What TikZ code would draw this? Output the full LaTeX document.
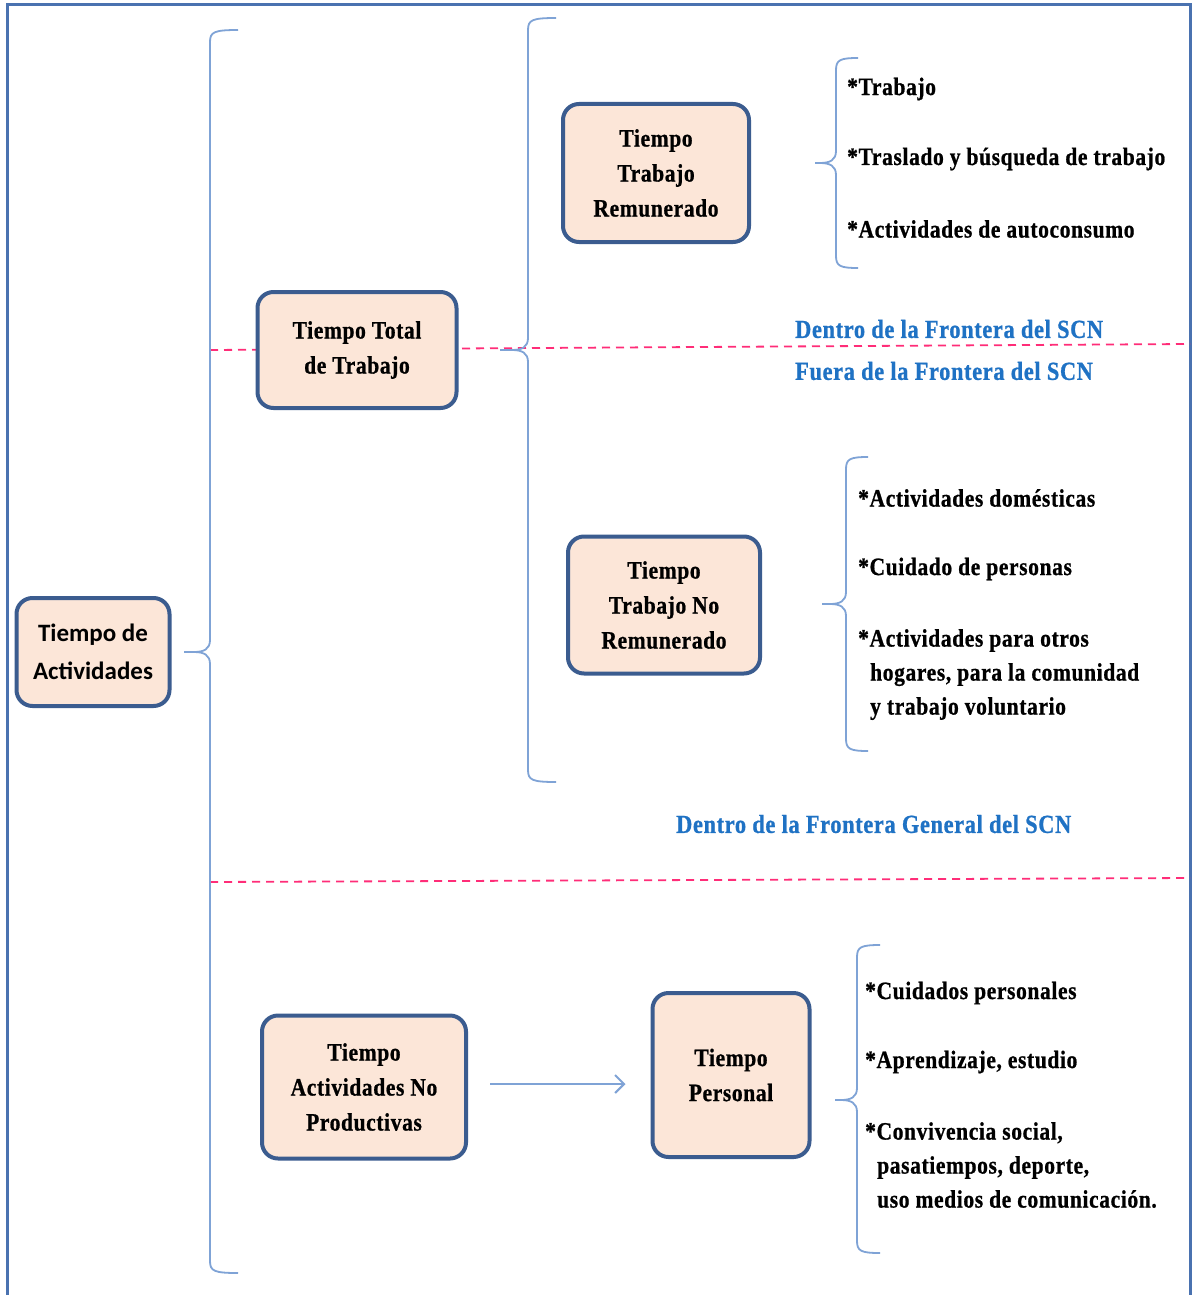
\documentclass[tikz,border=0pt]{standalone}
\usepackage{fontspec}
\setmainfont{Liberation Serif}
\newfontfamily\cond[FakeStretch=0.86,LetterSpace=2.5,FakeBold=0.8]{Liberation Serif}
\newfontfamily\calib{Carlito}
\usetikzlibrary{arrows.meta}
\definecolor{frameblue}{HTML}{4A72B0}
\definecolor{bracecol}{HTML}{7FA3D6}
\definecolor{boxfill}{HTML}{FCE6D8}
\definecolor{boxline}{HTML}{3B5C8F}
\definecolor{dashpink}{HTML}{FF2D78}
\definecolor{labblue}{HTML}{1F72C4}
\tikzset{
  box/.style={draw=boxline, fill=boxfill, line width=4pt, rounded corners=16pt,
    align=center, inner sep=0pt, font=\cond\bfseries\fontsize{25}{35}\selectfont},
  brc/.style={draw=bracecol, line width=1.8pt},
  sep/.style={draw=dashpink, line width=1.8pt, dash pattern=on 8pt off 6pt},
  lab/.style={text=labblue, font=\cond\bfseries\fontsize{26}{30}\selectfont, anchor=west, inner sep=0pt},
  item/.style={font=\cond\bfseries\fontsize{25}{34}\selectfont, anchor=west, align=left, inner sep=0pt},
  arr/.style={draw=bracecol, line width=2pt, -{Straight Barb[length=9pt,width=18pt,line width=2pt]}}
}
\newcommand{\mybrc}[6]{%
  % #1 x of vertical, #2 top y, #3 middle y, #4 bottom y, #5 tip x, #6 hook end x
  \draw[brc] (#6,#2) .. controls ({#1+4},#2) and (#1,{#2+2}) .. (#1,{#2+12})
    -- (#1,{#3-12}) .. controls (#1,{#3-3}) and ({#1-6},#3) .. ({#1-16},#3) -- (#5,#3)
    -- ({#1-16},#3) .. controls ({#1-6},#3) and (#1,{#3+3}) .. (#1,{#3+12})
    -- (#1,{#4-12}) .. controls (#1,{#4-2}) and ({#1+4},#4) .. (#6,#4);}
\begin{document}
\begin{tikzpicture}[x=1pt,y=-1pt]
\useasboundingbox (0,0) rectangle (1193,1295);
\fill[white] (0,0) rectangle (1193,1295);
% frame
\draw[frameblue, line width=3pt] (7,1300) -- (7,5) -- (1190,5) -- (1190,1300);
% separators
\draw[sep] (210,350) -- (1190,344);
\draw[sep] (210,882) -- (1190,878);
% braces
\mybrc{210}{30}{652}{1273}{184}{238}
\mybrc{528}{18}{350}{782}{500}{556}
\mybrc{836}{58}{163}{268}{815}{858}
\mybrc{846}{457}{604}{751}{822}{868}
\mybrc{857}{945}{1100}{1253}{835}{880}
% boxes
\node[box, minimum width=153pt, minimum height=108pt, font=\calib\bfseries\fontsize{25}{38}\selectfont] (ta) at (93,652) {Tiempo de\\Actividades};
\node[box, minimum width=199pt, minimum height=116pt] (ttt) at (357,350) {Tiempo Total\\de Trabajo};
\node[box, minimum width=186pt, minimum height=138pt] (ttr) at (656,173) {Tiempo\\Trabajo\\Remunerado};
\node[box, minimum width=192pt, minimum height=137pt] (ttnr) at (664,605) {Tiempo\\Trabajo No\\Remunerado};
\node[box, minimum width=204pt, minimum height=143pt] (anp) at (364,1087) {Tiempo\\Actividades No\\Productivas};
\node[box, minimum width=157pt, minimum height=164pt] (tp) at (731,1075) {Tiempo\\Personal};
% arrow
\draw[arr, shorten <=22pt, shorten >=25pt] (anp.east |- 0,1084) coordinate (a1) -- (tp.west |- 0,1084) coordinate (a2);
% labels
\node[lab] (l1) at (795,329) {Dentro de la Frontera del SCN};
\node[lab] (l2) at (795,371) {Fuera de la Frontera del SCN};
\node[lab] (l3) at (676,824) {Dentro de la Frontera General del SCN};
% items group 1
\node[item] (i11) at (847,89) {*Trabajo};
\node[item] (i12) at (847,159) {*Traslado y búsqueda de trabajo};
\node[item] (i13) at (847,229) {*Actividades de autoconsumo};
% group 2
\node[item] (i21) at (858,498) {*Actividades domésticas};
\node[item] (i22) at (858,569) {*Cuidado de personas};
\node[item, anchor=north west] (i23) at (858,629) {*Actividades para otros\\\hspace*{12pt}hogares, para la comunidad\\\hspace*{12pt}y trabajo voluntario};
% group 3
\node[item] (i31) at (865,993) {*Cuidados personales};
\node[item] (i32) at (865,1062) {*Aprendizaje, estudio};
\node[item, anchor=north west] (i33) at (865,1122) {*Convivencia social,\\\hspace*{12pt}pasatiempos, deporte,\\\hspace*{12pt}uso medios de comunicación.};
\end{tikzpicture}
\end{document}
